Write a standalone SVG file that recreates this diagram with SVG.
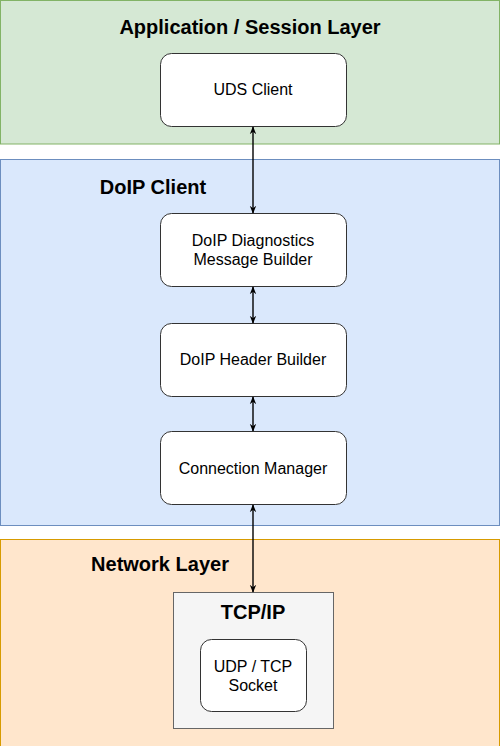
<svg xmlns="http://www.w3.org/2000/svg" width="500" height="746" viewBox="0 0 500 746">
<style>
.band-title{font-family:"Liberation Sans",Arial,sans-serif;font-weight:bold;fill:#000;font-size:20px;text-anchor:middle}
.lbl{font-family:"Liberation Sans",Arial,sans-serif;font-size:16px;fill:#000;text-anchor:middle}
.box{fill:#fff;stroke:#333;stroke-width:1}
.conn{stroke:#000;stroke-width:1.4;fill:none;marker-start:url(#ah);marker-end:url(#ah)}
</style>
<defs>
<marker id="ah" viewBox="0 0 10 10" refX="9" refY="5" markerWidth="8" markerHeight="8" orient="auto-start-reverse" markerUnits="userSpaceOnUse">
<path d="M0,1 L10,5 L0,9 L3,5 Z" fill="#000"/>
</marker>
</defs>
<g id="app-layer">
<rect x="0.5" y="0.5" width="499" height="143.5" fill="#d5e8d4" stroke="#82b366"/>
<text class="band-title" x="250" y="34">Application / Session Layer</text>
</g>
<g id="doip-layer">
<rect x="0.5" y="159.5" width="499" height="366" fill="#dae8fc" stroke="#6c8ebf"/>
<text class="band-title" x="153" y="194">DoIP Client</text>
</g>
<g id="net-layer">
<rect x="0.5" y="539.5" width="499" height="207" fill="#ffe6cc" stroke="#d79b00"/>
<text class="band-title" x="160" y="571">Network Layer</text>
</g>
<g id="uds-client">
<rect class="box" x="160.5" y="53.5" width="186" height="73" rx="11"/>
<text class="lbl" x="253" y="95">UDS Client</text>
</g>
<g id="diag-builder">
<rect class="box" x="160.5" y="213.5" width="186" height="73" rx="11"/>
<text class="lbl" x="253" y="246">DoIP Diagnostics</text>
<text class="lbl" x="253" y="265">Message Builder</text>
</g>
<g id="header-builder">
<rect class="box" x="160.5" y="323.5" width="186" height="73" rx="11"/>
<text class="lbl" x="253" y="365">DoIP Header Builder</text>
</g>
<g id="conn-manager">
<rect class="box" x="160.5" y="431.5" width="186" height="73" rx="11"/>
<text class="lbl" x="253" y="474">Connection Manager</text>
</g>
<g id="tcpip">
<rect x="173.5" y="592.5" width="160" height="136" fill="#f5f5f5" stroke="#666"/>
<text class="band-title" x="253" y="619">TCP/IP</text>
</g>
<g id="socket">
<rect class="box" x="200.5" y="639.5" width="106" height="72" rx="11"/>
<text class="lbl" x="253" y="672">UDP / TCP</text>
<text class="lbl" x="253" y="691">Socket</text>
</g>
<g id="connectors">
<line class="conn" x1="253" y1="127" x2="253" y2="213"/>
<line class="conn" x1="253" y1="287" x2="253" y2="323"/>
<line class="conn" x1="253" y1="397" x2="253" y2="431"/>
<line class="conn" x1="253" y1="505" x2="253" y2="592"/>
</g>
</svg>
